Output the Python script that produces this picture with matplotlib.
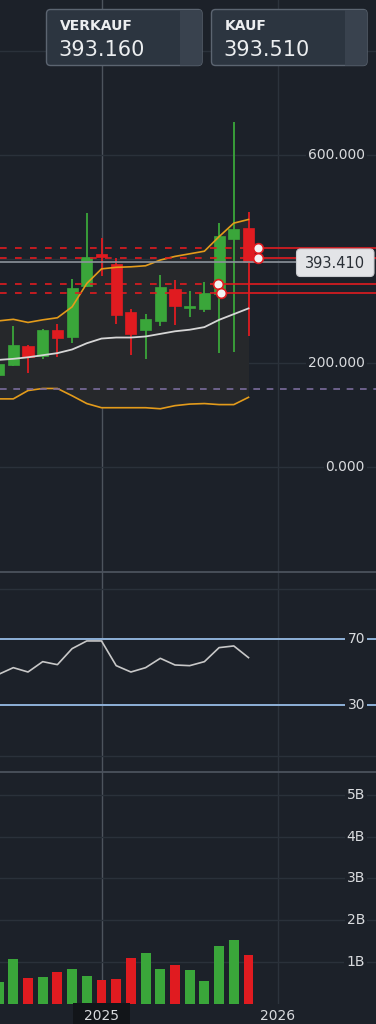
import numpy as np
import matplotlib.pyplot as plt
from matplotlib.patches import FancyBboxPatch, Rectangle
from matplotlib.transforms import blended_transform_factory

plt.rcParams['font.family'] = ['DejaVu Sans']

# ---------------- data (monthly, 0 = Jan 2025) ----------------
months = np.arange(-7, 11)          # Jun 2024 .. Nov 2025
opens  = [176, 197, 233, 213, 263, 250, 349, 409, 391, 299, 263, 281, 342, 306, 304, 332, 439, 459]
closes = [199, 234, 212, 263, 249, 345, 404, 404, 293, 255, 284, 347, 310, 309, 335, 444, 457, 393.41]
highs  = [205, 271, 235, 265, 275, 362, 489, 440, 401, 304, 295, 369, 359, 338, 355, 469, 664, 490]
lows   = [170, 195, 180, 208, 212, 239, 347, 367, 275, 215, 208, 271, 273, 289, 298, 219, 222, 252]

bb_upper  = [281, 284, 278, 283, 287, 308, 353, 381, 384, 385, 387, 398, 405, 410, 415, 443, 469, 476]
bb_middle = [206, 208, 211, 215, 219, 226, 238, 247, 249, 249, 251, 256, 261, 264, 269, 283, 294, 305]
bb_lower  = [131, 131, 147, 151, 151, 137, 122, 114, 114, 114, 114, 112, 118, 121, 122, 120, 120, 134]

rsi = [48.6, 52.6, 50.0, 56.2, 54.4, 64.0, 68.6, 68.6, 53.8, 50.0, 52.6, 58.2, 54.2, 53.8, 56.2, 64.6, 65.6, 58.6]
volume_b = [0.52, 1.07, 0.63, 0.64, 0.76, 0.83, 0.68, 0.57, 0.59, 1.10, 1.22, 0.84, 0.94, 0.82, 0.56, 1.39, 1.53, 1.17]

level_prices = [421, 402, 352, 335]
level_starts = [10.65, 10.65, 7.93, 8.13]
purple_level = 150.6
last_price = 393.41
sell_price = "393.160"
buy_price = "393.510"

price_grid = [0, 200, 400, 600, 800]
price_ticks = [0, 200, 600]          # 400 / 800 are hidden under the price tag and the KAUF box
rsi_ticks = [30, 70]
vol_ticks = [1, 2, 3, 4, 5]
year_ticks = [0, 12]
year_labels = ["2025", "2026"]

# ---------------- style ----------------
bg = '#1c2129'
grid = '#2a313a'
txt = '#d9dbde'
green = '#3aa63a'
red = '#e01b20'
orange = '#e39b1b'

W, H = 376, 1024
fig = plt.figure(figsize=(W / 100, H / 100), dpi=100, facecolor=bg)

def px_axes(top, bottom):
    return fig.add_axes([0, 1 - bottom / H, 1, (bottom - top) / H])

xlim = ((0 - 101.5) / 14.7, (W - 101.5) / 14.7)

ax = px_axes(0, 572)
ax_rsi = px_axes(572, 772)
ax_vol = px_axes(772, 1004)

for a in (ax, ax_rsi, ax_vol):
    a.set_facecolor(bg)
    a.set_xlim(xlim)
    for s in a.spines.values():
        s.set_visible(False)
    a.set_xticks([])
    a.set_yticks([])
    a.axvline(0, color='#4d545d', lw=1.0, zorder=0.5)
    a.axvline(12, color='#2c333c', lw=1.0, zorder=0.5)

def right_labels(a, vals, labels):
    tr = a.get_yaxis_transform()
    for v, l in zip(vals, labels):
        a.text(365 / W, v, l, transform=tr, ha='right', va='center', fontsize=10,
               color=txt, zorder=6, bbox=dict(fc=bg, ec='none', pad=1.5))

# ---------------- price panel ----------------
ax.set_ylim((467 - 572) / 0.52, 467 / 0.52)
for p in price_grid:
    ax.axhline(p, color=grid, lw=1.0, zorder=0.5)

ax.fill_between(months, bb_lower, bb_upper, color='#26282b', lw=0, zorder=1)

o = np.array(opens); c = np.array(closes)
cols = [green if cc >= oo else red for oo, cc in zip(opens, closes)]
ax.vlines(months, lows, highs, colors=cols, lw=1.3, zorder=2)
ax.bar(months, np.maximum(np.abs(c - o), 2), bottom=np.minimum(o, c), width=0.75,
       color=cols, edgecolor=cols, lw=0.5, zorder=2)

ax.plot(months, bb_upper, color=orange, lw=1.2, zorder=3)
ax.plot(months, bb_lower, color=orange, lw=1.2, zorder=3)
ax.plot(months, bb_middle, color='#d6d6d6', lw=1.3, zorder=3)

ax.axhline(purple_level, color='#7a6c9c', lw=1.2, ls=(0, (4, 4)), zorder=3)
ax.axhline(last_price, xmax=(296 / W), color='#8c939b', lw=1.2, zorder=3.5)

for lv, st in zip(level_prices, level_starts):
    ax.plot([xlim[0], st], [lv, lv], color=red, lw=1.2, ls=(0, (4, 5)), zorder=4)
    ax.plot([st, xlim[1]], [lv, lv], color=red, lw=1.2, zorder=4)
    ax.plot(st, lv, 'o', ms=7, mfc='#f2f2f2', mec=red, mew=1.2, zorder=5)

right_labels(ax, price_ticks, ["%.3f" % v for v in price_ticks])

# ---------------- RSI panel ----------------
ax_rsi.set_ylim(-16.5 / 1.67, 100 + 16.5 / 1.67)
ax_rsi.axhline(100, color=grid, lw=1.0)
ax_rsi.axhline(0, color=grid, lw=1.0)
for v in rsi_ticks:
    ax_rsi.axhline(v, color='#8fb1d8', lw=1.4, zorder=2)
ax_rsi.plot(months, rsi, color='#c8c8c8', lw=1.2, zorder=3)
right_labels(ax_rsi, rsi_ticks, [str(v) for v in rsi_ticks])

# ---------------- volume panel ----------------
ax_vol.set_ylim(0, 232 / 41.86)
for v in vol_ticks:
    ax_vol.axhline(v, color=grid, lw=1.0, zorder=0.5)
ax_vol.bar(months, volume_b, width=0.68, color=cols, zorder=2)
right_labels(ax_vol, vol_ticks, ["%dB" % v for v in vol_ticks])

# ---------------- overlay (UI boxes, separators, x labels) ----------------
ov = fig.add_axes([0, 0, 1, 1], zorder=10)
ov.set_xlim(0, W)
ov.set_ylim(H, 0)
ov.axis('off')
ov.patch.set_alpha(0)

for yy in (572, 772):
    ov.plot([0, W], [yy, yy], color='#4b525d', lw=1.3)

for x0, title, val in ((46.5, "VERKAUF", sell_price), (211.5, "KAUF", buy_price)):
    box = FancyBboxPatch((x0, 9.5), 155.5, 56, boxstyle='round,pad=0,rounding_size=4',
                         fc='#2c3540', ec='#5c6571', lw=1.0)
    ov.add_patch(box)
    strip = Rectangle((x0 + 133.5, 9.5), 22, 56, fc='#39424e', ec='none')
    ov.add_patch(strip)
    strip.set_clip_path(box)
    ov.text(x0 + 13, 25.5, title, fontsize=10, fontweight='bold', color='#eceef0', va='center')
    ov.text(x0 + 12, 50, val, fontsize=15, color='#eceef0', va='center')

ov.add_patch(FancyBboxPatch((296.5, 249), 77.5, 27.5, boxstyle='round,pad=0,rounding_size=4',
                            fc='#e3e4e7', ec='#c9cbcf', lw=0.8))
ov.text(335, 263, "%.3f" % last_price, fontsize=10.5, color='#2a2f36', ha='center', va='center')

ov.add_patch(Rectangle((73, 1003), 57, 21, fc='#121519', ec='none'))
trx = blended_transform_factory(ax_vol.transData, ov.transData)
for m, l in zip(year_ticks, year_labels):
    ov.text(m, 1016.5, l, transform=trx, fontsize=10, color=txt, ha='center', va='center')

fig.savefig('out.png', dpi=100, facecolor=bg)
